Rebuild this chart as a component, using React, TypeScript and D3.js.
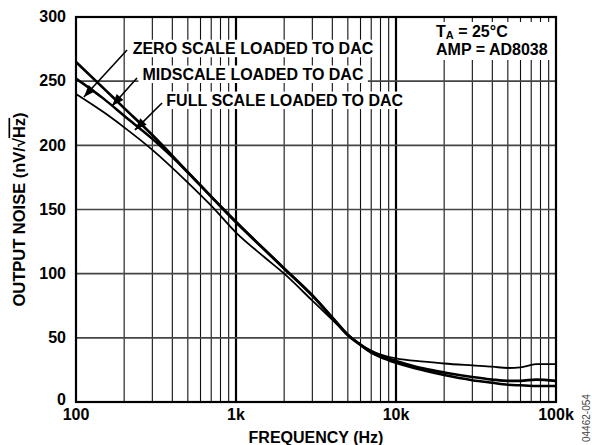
import React, { useEffect, useRef } from "react";
import * as d3 from "d3";

const FREQS = [100, 150, 200, 300, 500, 700, 1000, 1500, 2000, 3000, 4000, 5000, 6000, 7000, 8000, 10000, 15000, 20000, 30000, 40000, 50000, 60000, 75000, 100000];
const ZERO_SCALE = [240, 225.5, 214, 196.5, 171, 153, 132, 113, 100, 79, 64, 52.5, 45, 40, 37, 34, 31.5, 30, 28.5, 27.5, 26.5, 27, 29.5, 29.5];
const MIDSCALE = [252, 236, 223, 205, 179, 160, 140.5, 119, 104, 83, 66, 52.5, 44.5, 38.5, 35, 30.5, 24.5, 21, 17, 15, 13.5, 13, 12.5, 12.5];
const FULL_SCALE = [265, 244, 229, 208, 179, 160, 140, 119, 104, 83, 65.5, 52, 44.5, 39, 36, 32, 26, 23, 19.5, 17.5, 16.5, 16.5, 17.5, 16.5];

const Y_TICKS = [0, 50, 100, 150, 200, 250, 300];
const X_TICKS = [100, 1000, 10000, 100000];
const X_TICK_LABELS = ["100", "1k", "10k", "100k"];

const ANNOT_LABELS = ["ZERO SCALE LOADED TO DAC", "MIDSCALE LOADED TO DAC", "FULL SCALE LOADED TO DAC"];
const ANNOT_TEXT_F = [226, 260, 367];
const ANNOT_TEXT_V = [271, 250.9, 230.6];
const ANNOT_FROM_F = [208.5, 240.5, 345];
const ANNOT_FROM_V = [274.3, 252.5, 233];
const ANNOT_TIP_F = [112, 168, 233.6];
const ANNOT_TIP_V = [237.7, 230.7, 212];

const FONT = "'Liberation Sans', Arial, Helvetica, sans-serif";
const FS = 16;

export default function App() {
  const ref = useRef<SVGSVGElement | null>(null);

  useEffect(() => {
    const svg = d3.select(ref.current);
    svg.selectAll("*").remove();

    const left = 76, right = 556, top = 17, bottom = 402;
    const x = d3.scaleLog().domain([100, 100000]).range([left, right]);
    const y = d3.scaleLinear().domain([0, 300]).range([bottom, top]);

    const g = svg.append("g");

    // vertical grid
    const minor: number[] = [];
    [100, 1000, 10000].forEach((d) => {
      for (let m = 2; m <= 9; m++) minor.push(d * m);
    });
    g.selectAll("line.vminor")
      .data(minor)
      .enter()
      .append("line")
      .attr("x1", (d) => x(d))
      .attr("x2", (d) => x(d))
      .attr("y1", top)
      .attr("y2", bottom)
      .attr("stroke", "#111")
      .attr("stroke-width", 1.1);
    g.selectAll("line.vmajor")
      .data([1000, 10000])
      .enter()
      .append("line")
      .attr("x1", (d) => x(d))
      .attr("x2", (d) => x(d))
      .attr("y1", top)
      .attr("y2", bottom)
      .attr("stroke", "#000")
      .attr("stroke-width", 2.2);
    // horizontal grid
    g.selectAll("line.h")
      .data(Y_TICKS.filter((v) => v > 0 && v < 300))
      .enter()
      .append("line")
      .attr("x1", left)
      .attr("x2", right)
      .attr("y1", (d) => y(d))
      .attr("y2", (d) => y(d))
      .attr("stroke", "#444")
      .attr("stroke-width", 1.7);

    // series
    const line = d3
      .line<number>()
      .x((_, i) => x(FREQS[i]))
      .y((d) => y(d))
      .curve(d3.curveMonotoneX);
    const series = [
      { v: ZERO_SCALE, w: 1.8 },
      { v: MIDSCALE, w: 2.5 },
      { v: FULL_SCALE, w: 2.7 },
    ];
    series.forEach((s) => {
      g.append("path")
        .attr("d", line(s.v) as string)
        .attr("fill", "none")
        .attr("stroke", "#000")
        .attr("stroke-width", s.w)
        .attr("stroke-linejoin", "round");
    });

    // annotation labels with white background
    ANNOT_LABELS.forEach((lab, i) => {
      const t = g
        .append("text")
        .attr("x", x(ANNOT_TEXT_F[i]))
        .attr("y", y(ANNOT_TEXT_V[i]))
        .attr("font-family", FONT)
        .attr("font-weight", "bold")
        .attr("font-size", FS)
        .attr("fill", "#000")
        .text(lab);
      const bb = (t.node() as SVGTextElement).getBBox();
      g.insert("rect", () => t.node() as any)
        .attr("x", bb.x - 4)
        .attr("y", bb.y - 0.5)
        .attr("width", bb.width + 8)
        .attr("height", bb.height + 0.5)
        .attr("fill", "#fff");
    });

    // arrows
    ANNOT_LABELS.forEach((_, i) => {
      const x0 = x(ANNOT_FROM_F[i]), y0 = y(ANNOT_FROM_V[i]);
      const x1 = x(ANNOT_TIP_F[i]), y1 = y(ANNOT_TIP_V[i]);
      g.append("line")
        .attr("x1", x0)
        .attr("y1", y0)
        .attr("x2", x1)
        .attr("y2", y1)
        .attr("stroke", "#000")
        .attr("stroke-width", 1.6);
      const ang = Math.atan2(y1 - y0, x1 - x0);
      const L = 12, W = 4.5;
      const bx = x1 - L * Math.cos(ang), by = y1 - L * Math.sin(ang);
      const px = -Math.sin(ang) * W, py = Math.cos(ang) * W;
      g.append("path")
        .attr("d", `M${x1},${y1}L${bx + px},${by + py}L${bx - px},${by - py}Z`)
        .attr("fill", "#000");
    });

    // T_A box
    const box = g.append("g");
    const bgRect = box.append("rect").attr("fill", "#fff");
    const t1 = box
      .append("text")
      .attr("x", 436)
      .attr("y", 37)
      .attr("font-family", FONT)
      .attr("font-weight", "bold")
      .attr("font-size", FS)
      .attr("fill", "#000");
    t1.append("tspan").text("T");
    t1.append("tspan").attr("font-size", 11).attr("dy", 2).text("A");
    t1.append("tspan").attr("dy", -2).text(" = 25°C");
    const t2 = box
      .append("text")
      .attr("x", 436)
      .attr("y", 55)
      .attr("font-family", FONT)
      .attr("font-weight", "bold")
      .attr("font-size", FS)
      .attr("fill", "#000")
      .text("AMP = AD8038");
    const b1 = (t1.node() as SVGTextElement).getBBox();
    const b2 = (t2.node() as SVGTextElement).getBBox();
    const bx0 = Math.min(b1.x, b2.x) - 6;
    const bx1 = right - 2;
    bgRect
      .attr("x", bx0)
      .attr("y", b1.y - 1)
      .attr("width", bx1 - bx0)
      .attr("height", b2.y + b2.height - b1.y + 3);

    // frame
    g.append("rect")
      .attr("x", left)
      .attr("y", top)
      .attr("width", right - left)
      .attr("height", bottom - top)
      .attr("fill", "none")
      .attr("stroke", "#000")
      .attr("stroke-width", 2.2);

    // y tick labels
    g.selectAll("text.yt")
      .data(Y_TICKS)
      .enter()
      .append("text")
      .attr("x", 66)
      .attr("y", (d) => (d === 0 ? y(d) - 2 : y(d)))
      .attr("dy", "0.33em")
      .attr("text-anchor", "end")
      .attr("font-family", FONT)
      .attr("font-weight", "bold")
      .attr("font-size", FS)
      .text((d) => String(d));

    // x tick labels
    g.selectAll("text.xt")
      .data(X_TICKS)
      .enter()
      .append("text")
      .attr("x", (d) => x(d))
      .attr("y", 420)
      .attr("text-anchor", "middle")
      .attr("font-family", FONT)
      .attr("font-weight", "bold")
      .attr("font-size", FS)
      .text((_, i) => X_TICK_LABELS[i]);

    // axis titles
    g.append("text")
      .attr("x", (left + right) / 2)
      .attr("y", 443)
      .attr("text-anchor", "middle")
      .attr("font-family", FONT)
      .attr("font-weight", "bold")
      .attr("font-size", FS)
      .text("FREQUENCY (Hz)");

    const yt = g
      .append("text")
      .attr("transform", `translate(24.5,${(top + bottom) / 2}) rotate(-90)`)
      .attr("text-anchor", "middle")
      .attr("font-family", FONT)
      .attr("font-weight", "bold")
      .attr("font-size", 16.5);
    yt.append("tspan").text("OUTPUT NOISE (nV/√");
    yt.append("tspan").style("text-decoration", "overline").text("Hz");
    yt.append("tspan").text(")");

    g.append("text")
      .attr("transform", `translate(590,442) rotate(-90)`)
      .attr("text-anchor", "start")
      .attr("font-family", FONT)
      .attr("font-size", 10)
      .attr("fill", "#444")
      .text("04462-054");
  }, []);

  return (
    <svg
      ref={ref}
      width={592}
      height={445}
      style={{ position: "absolute", left: 0, top: 0, background: "#fff" }}
    />
  );
}
